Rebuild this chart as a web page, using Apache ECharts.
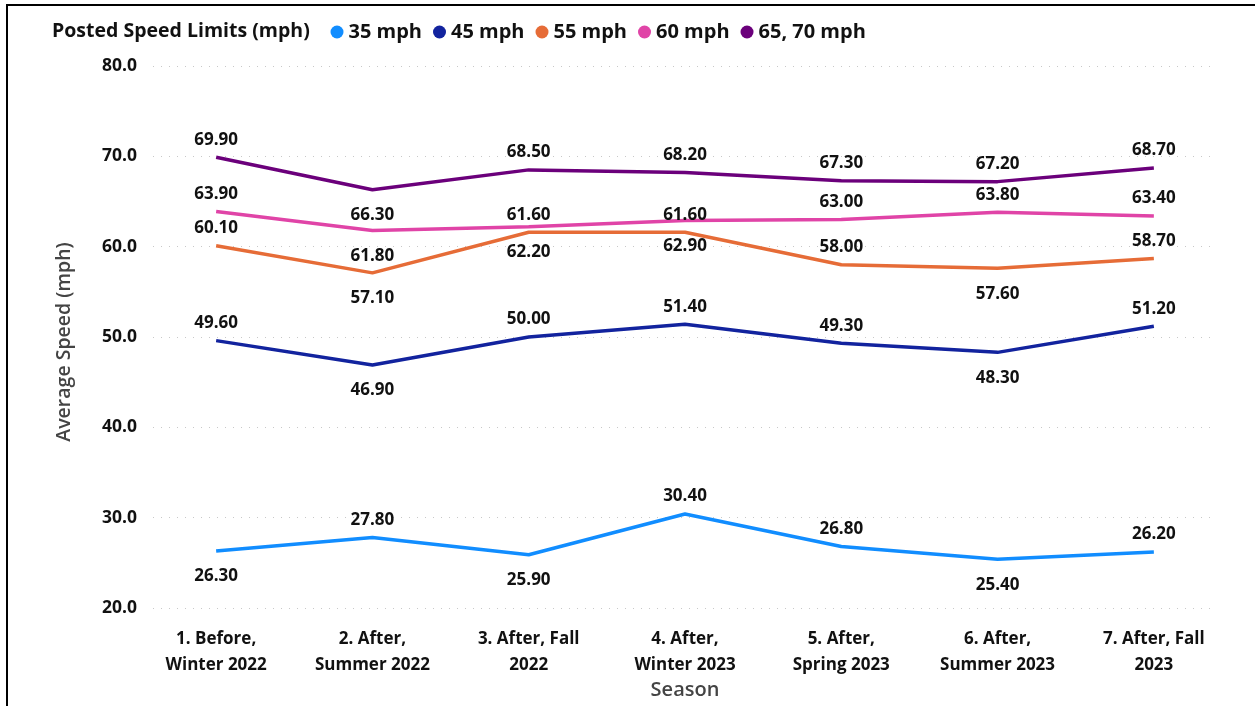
<!DOCTYPE html>
<html>
<head>
<meta charset="utf-8">
<script src="https://cdn.jsdelivr.net/npm/echarts@6/dist/echarts.min.js"></script>
<style>
  html, body { margin: 0; padding: 0; background: #fff; }
  #chart { width: 1255px; height: 706px; }
</style>
</head>
<body>
<div id="chart"></div>
<script>
// Seasons on the x axis
const seasons = [
  '1. Before,\nWinter 2022',
  '2. After,\nSummer 2022',
  '3. After, Fall\n2022',
  '4. After,\nWinter 2023',
  '5. After,\nSpring 2023',
  '6. After,\nSummer 2023',
  '7. After, Fall\n2023'
];

// Posted speed limit groups
const speedLimits = ['35 mph', '45 mph', '55 mph', '60 mph', '65, 70 mph'];

// Average speed (mph) per season for each posted limit
const avg35 = [26.3, 27.8, 25.9, 30.4, 26.8, 25.4, 26.2];
const avg45 = [49.6, 46.9, 50.0, 51.4, 49.3, 48.3, 51.2];
const avg55 = [60.1, 57.1, 61.6, 61.6, 58.0, 57.6, 58.7];
const avg60 = [63.9, 61.8, 62.2, 62.9, 63.0, 63.8, 63.4];
const avg6570 = [69.9, 66.3, 68.5, 68.2, 67.3, 67.2, 68.7];

// Y axis range and step
const yMin = 20, yMax = 80, yStep = 10;

const seriesValues = [avg35, avg45, avg55, avg60, avg6570];
const colors = ['#118DFF', '#12239E', '#E66C37', '#E044A7', '#6B007B'];

// Points whose value label sits under the line instead of above it
const labelsBelow = [[0, 2, 5], [1, 5], [1, 5], [1, 2, 3], [1]];

const FONT = '"Open Sans", "Noto Sans", sans-serif';

const chart = echarts.init(document.getElementById('chart'), null, { renderer: 'canvas' });

const series = speedLimits.map((name, s) => ({
  name,
  type: 'line',
  xAxisIndex: 0,
  yAxisIndex: 0,
  data: seriesValues[s].map((v, i) => {
    const below = labelsBelow[s].includes(i);
    return {
      value: v,
      label: below ? { position: 'bottom', distance: 17 } : { position: 'top', distance: 9 }
    };
  }),
  showSymbol: true,
  symbol: 'circle',
  symbolSize: 0,
  lineStyle: { width: 3.5, color: colors[s] },
  itemStyle: { color: colors[s] },
  label: {
    show: true,
    formatter: p => p.value.toFixed(2),
    fontFamily: FONT,
    fontWeight: 'bold',
    fontSize: 17,
    color: '#111'
  },
  labelLayout: { hideOverlap: false },
  emphasis: { disabled: true },
  z: 3
}));

chart.setOption({
  animation: false,
  backgroundColor: '#fff',
  textStyle: { fontFamily: FONT },
  legend: {
    data: speedLimits.map((n, i) => ({ name: n, itemStyle: { color: colors[i] } })),
    left: 325.5,
    top: 17,
    icon: 'circle',
    itemWidth: 13,
    itemHeight: 13,
    itemGap: 11,
    textStyle: { fontFamily: FONT, fontWeight: 'bold', fontSize: 20, color: '#111' }
  },
  grid: [
    { left: 138, right: 23, top: 66, bottom: 98 },
    { left: 153, right: 43, top: 66, bottom: 98 }
  ],
  xAxis: [
    {
      type: 'category',
      gridIndex: 0,
      data: seasons,
      boundaryGap: true,
      axisLine: { show: false },
      axisTick: { show: false },
      axisLabel: {
        interval: 0,
        margin: 18,
        fontFamily: FONT,
        fontWeight: 'bold',
        fontSize: 17,
        lineHeight: 26,
        color: '#111'
      }
    },
    {
      type: 'category',
      gridIndex: 1,
      data: seasons,
      show: false
    }
  ],
  yAxis: [
    {
      type: 'value',
      gridIndex: 0,
      min: yMin,
      max: yMax,
      interval: yStep,
      show: false,
      splitLine: { show: false }
    },
    {
      type: 'value',
      gridIndex: 1,
      min: yMin,
      max: yMax,
      interval: yStep,
      axisLine: { show: false },
      axisTick: { show: false },
      axisLabel: {
        margin: 16,
        formatter: v => v.toFixed(1),
        fontFamily: FONT,
        fontWeight: 'bold',
        fontSize: 17.5,
        color: '#111'
      },
      splitLine: {
        show: true,
        lineStyle: { color: '#c8c8c8', width: 1, type: [1, 7] }
      }
    }
  ],
  graphic: [
    {
      type: 'rect',
      shape: { x: 7, y: 5, width: 1270, height: 720 },
      style: { fill: null, stroke: '#000', lineWidth: 2 },
      silent: true
    },
    {
      type: 'text',
      x: 52,
      y: 31,
      style: {
        text: 'Posted Speed Limits (mph)',
        font: 'bold 19.5px ' + FONT,
        fill: '#111',
        verticalAlign: 'middle'
      }
    },
    {
      type: 'text',
      x: 64,
      y: 342,
      rotation: Math.PI / 2,
      style: {
        text: 'Average Speed (mph)',
        font: '600 19.5px ' + FONT,
        fill: '#444',
        align: 'center',
        verticalAlign: 'middle'
      }
    },
    {
      type: 'text',
      x: 685,
      y: 690,
      style: {
        text: 'Season',
        font: '600 20px ' + FONT,
        fill: '#444',
        align: 'center',
        verticalAlign: 'middle'
      }
    }
  ],
  series
});
</script>
</body>
</html>
